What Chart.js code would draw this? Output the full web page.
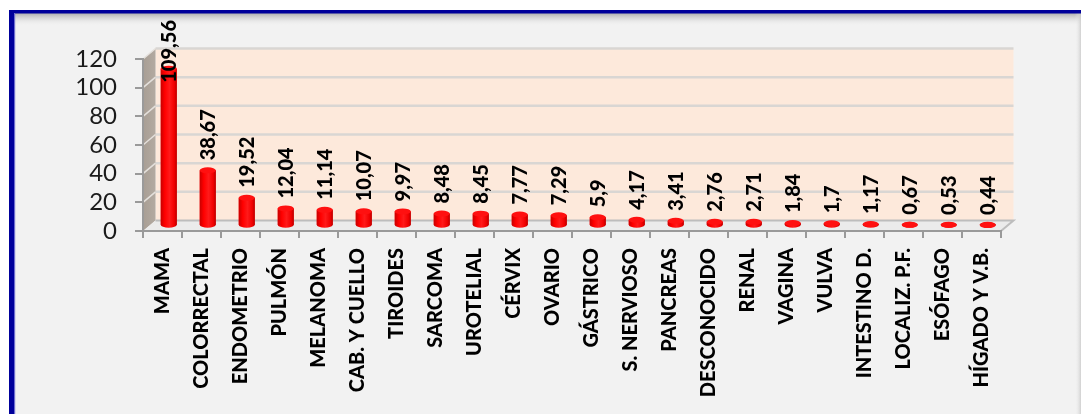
<!DOCTYPE html>
<html>
<head>
<meta charset="utf-8">
<script src="https://cdn.jsdelivr.net/npm/chart.js@4/dist/chart.umd.min.js"></script>
<style>
  html, body { margin: 0; padding: 0; background: #ffffff; }
  #wrap { position: relative; width: 1081px; height: 414px; overflow: hidden; }
  canvas { display: block; }
</style>
</head>
<body>
<div id="wrap"><canvas id="c" width="1081" height="414"></canvas></div>
<script>
// Tumour sites and their rates
const categories = [
  'MAMA', 'COLORRECTAL', 'ENDOMETRIO', 'PULMÓN', 'MELANOMA', 'CAB. Y CUELLO',
  'TIROIDES', 'SARCOMA', 'UROTELIAL', 'CÉRVIX', 'OVARIO', 'GÁSTRICO',
  'S. NERVIOSO', 'PANCREAS', 'DESCONOCIDO', 'RENAL', 'VAGINA', 'VULVA',
  'INTESTINO D.', 'LOCALIZ. P.F.', 'ESÓFAGO', 'HÍGADO Y V.B.'
];
const values = [
  109.56, 38.67, 19.52, 12.04, 11.14, 10.07,
  9.97, 8.48, 8.45, 7.77, 7.29, 5.9,
  4.17, 3.41, 2.76, 2.71, 1.84, 1.7,
  1.17, 0.67, 0.53, 0.44
];
const yTicks = [0, 20, 40, 60, 80, 100, 120];

// depth of the pseudo-3D box (back wall offset)
const DX = 12.5, DY = -10.5;
const FONT = 'Lato, "Open Sans", "DejaVu Sans", sans-serif';

const fmt = v => String(v).replace('.', ',');

// Frame, walls and floor behind everything
const backdrop = {
  id: 'backdrop',
  beforeDraw(chart) {
    const ctx = chart.ctx;
    const W = chart.width, H = chart.height;
    const a = chart.chartArea;
    const ys = chart.scales.y;
    ctx.save();
    ctx.fillStyle = '#ffffff';
    ctx.fillRect(0, 0, W, H);
    // panel
    ctx.fillStyle = '#f2f2f2';
    ctx.fillRect(12, 12, W - 12, H - 12);
    let g = ctx.createLinearGradient(0, 13, 0, 26);
    g.addColorStop(0, 'rgba(150,150,150,0.75)');
    g.addColorStop(1, 'rgba(242,242,242,0)');
    ctx.fillStyle = g;
    ctx.fillRect(15, 13, W - 15, 13);
    g = ctx.createLinearGradient(W - 6, 0, W, 0);
    g.addColorStop(0, 'rgba(242,242,242,0)');
    g.addColorStop(1, 'rgba(200,200,200,0.8)');
    ctx.fillStyle = g;
    ctx.fillRect(W - 6, 13, 6, H - 13);
    // blue frame (top and left edges)
    ctx.fillStyle = '#00009b';
    ctx.fillRect(9, 10, W - 9, 3.5);
    ctx.fillRect(9, 10, 5, H - 10);
    ctx.fillStyle = '#6d6dd0';
    ctx.fillRect(14, 13.5, 1.2, H - 13.5);

    const L = a.left, R = a.right, T = a.top, B = a.bottom;
    // back wall
    ctx.fillStyle = '#fde9db';
    ctx.fillRect(L + DX, T + DY, R - L, B - T);
    // back wall gridlines
    ctx.strokeStyle = '#d9d6d3';
    ctx.lineWidth = 2.5;
    yTicks.forEach(v => {
      if (v === 0) return;
      const y = ys.getPixelForValue(v) + DY;
      ctx.beginPath();
      ctx.moveTo(L + DX, y);
      ctx.lineTo(R + DX, y);
      ctx.stroke();
    });
    // side wall
    g = ctx.createLinearGradient(L, 0, L + DX, 0);
    g.addColorStop(0, '#a89e94');
    g.addColorStop(1, '#b3aaa1');
    ctx.fillStyle = g;
    ctx.beginPath();
    ctx.moveTo(L, T);
    ctx.lineTo(L + DX, T + DY);
    ctx.lineTo(L + DX, B + DY);
    ctx.lineTo(L, B);
    ctx.closePath();
    ctx.fill();
    ctx.strokeStyle = '#e4e0dc';
    ctx.lineWidth = 1.5;
    yTicks.forEach(v => {
      if (v === 0) return;
      const y = ys.getPixelForValue(v);
      ctx.beginPath();
      ctx.moveTo(L, y);
      ctx.lineTo(L + DX, y + DY);
      ctx.stroke();
    });
    // floor
    ctx.fillStyle = '#ebebeb';
    ctx.beginPath();
    ctx.moveTo(L, B);
    ctx.lineTo(R, B);
    ctx.lineTo(R + DX, B + DY);
    ctx.lineTo(L + DX, B + DY);
    ctx.closePath();
    ctx.fill();
    ctx.strokeStyle = '#bdbdbd';
    ctx.lineWidth = 2;
    ctx.beginPath();
    ctx.moveTo(L + DX, B + DY);
    ctx.lineTo(R + DX, B + DY);
    ctx.lineTo(R, B);
    ctx.stroke();
    ctx.restore();
  }
};

// Bars are set half-way into the box depth and drawn as cylinders
const cylinders = {
  id: 'cylinders',
  beforeDatasetsDraw(chart) {
    chart.ctx.save();
    chart.ctx.translate(DX / 2, DY / 2);
  },
  afterDatasetsDraw(chart) {
    const ctx = chart.ctx;
    const meta = chart.getDatasetMeta(0);
    const RY = 3;
    meta.data.forEach(el => {
      const w = el.width, x0 = el.x - w / 2, top = el.y, base = el.base;
      const side = ctx.createLinearGradient(x0, 0, x0 + w, 0);
      side.addColorStop(0, '#c80000');
      side.addColorStop(0.25, '#ff0000');
      side.addColorStop(0.55, '#ff1a1a');
      side.addColorStop(0.85, '#f00000');
      side.addColorStop(1, '#b80000');
      // bottom rim
      ctx.fillStyle = side;
      ctx.beginPath();
      ctx.ellipse(el.x, base, w / 2, RY, 0, 0, Math.PI * 2);
      ctx.fill();
      // body shading
      ctx.fillRect(x0, top, w, base - top);
      // top cap
      ctx.fillStyle = '#ff1010';
      ctx.beginPath();
      ctx.ellipse(el.x, top, w / 2, RY, 0, 0, Math.PI * 2);
      ctx.fill();
    });
    ctx.restore();

    // value labels, rotated, above each bar
    ctx.save();
    ctx.font = '900 20px ' + FONT;
    ctx.fillStyle = '#000000';
    ctx.textAlign = 'left';
    ctx.textBaseline = 'middle';
    meta.data.forEach((el, i) => {
      const txt = fmt(values[i]);
      const tw = ctx.measureText(txt).width;
      const x = el.x + DX / 2;
      let start = el.y + DY / 2 - 10;
      if (start - tw < 20) start = 20 + tw;
      ctx.save();
      ctx.translate(x, start);
      ctx.rotate(-Math.PI / 2);
      ctx.fillText(txt, 0, 1);
      ctx.restore();
    });
    ctx.restore();
  }
};

new Chart(document.getElementById('c'), {
  type: 'bar',
  data: {
    labels: categories,
    datasets: [{
      data: values,
      backgroundColor: '#ff0000',
      borderWidth: 0,
      barPercentage: 0.41,
      categoryPercentage: 1,
      clip: false
    }]
  },
  options: {
    responsive: false,
    animation: false,
    events: [],
    layout: { padding: { left: 0, right: 80, top: 59, bottom: 0 } },
    plugins: { legend: { display: false }, tooltip: { enabled: false } },
    scales: {
      x: {
        offset: true,
        grid: { offset: true, drawOnChartArea: false, drawTicks: true, tickLength: 7, color: '#9a9a9a', lineWidth: 2 },
        border: { color: '#9a9a9a', width: 2 },
        ticks: {
          autoSkip: false, minRotation: 90, maxRotation: 90, padding: 10,
          color: '#000000', font: { family: FONT, size: 20, weight: '900' }
        },
        afterFit(s) { s.height = 414 - 231; }
      },
      y: {
        min: 0, max: 120,
        afterBuildTicks(s) { s.ticks = yTicks.map(v => ({ value: v })); },
        grid: { drawOnChartArea: false, drawTicks: true, tickLength: 8, color: '#9a9a9a', lineWidth: 2 },
        border: { color: '#9a9a9a', width: 2 },
        ticks: {
          autoSkip: false, padding: 18, color: '#1a1a1a',
          font: { family: FONT, size: 24 }
        },
        afterFit(s) { s.width = 143; }
      }
    }
  },
  plugins: [backdrop, cylinders]
});
</script>
</body>
</html>
